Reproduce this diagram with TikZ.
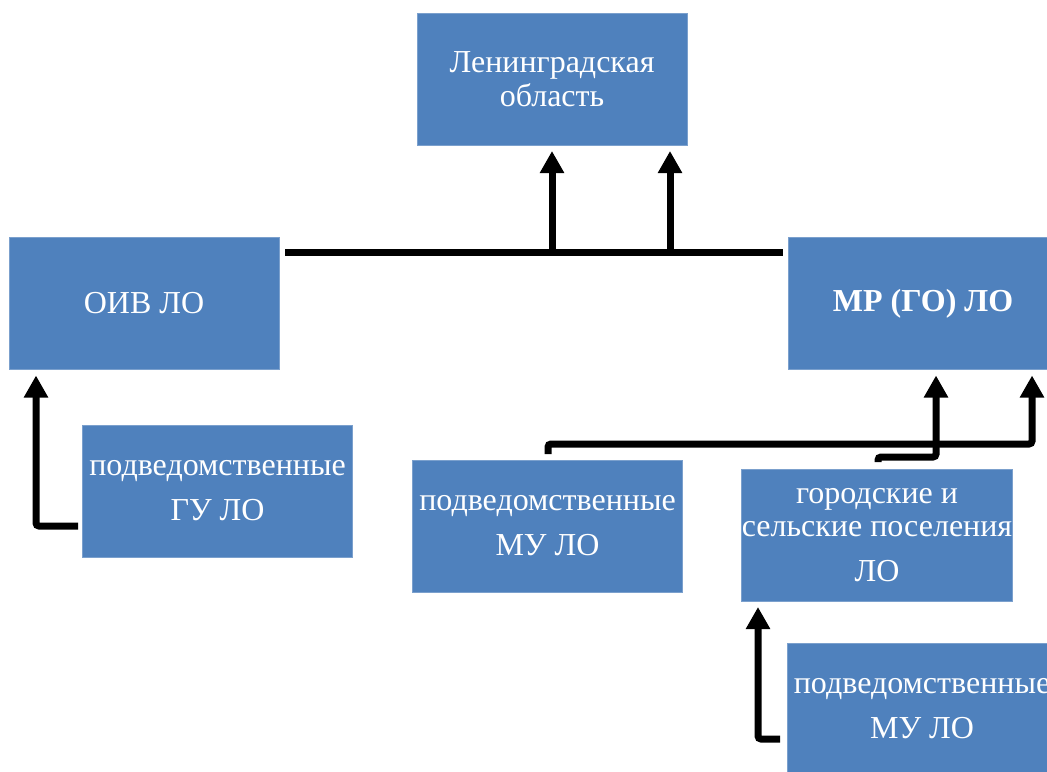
\documentclass[tikz,border=0pt]{standalone}
\usepackage{fontspec}
\setmainfont{Liberation Serif}
\usetikzlibrary{arrows.meta}
\definecolor{boxblue}{RGB}{79,129,189}
\tikzset{
  unit/.style={rectangle, fill=boxblue, draw=boxblue!75!white, line width=0.5pt, text=white, align=center,
    minimum width=135pt, minimum height=66pt, inner sep=0pt, font=\fontsize{16}{19}\selectfont},
  bus/.style={line width=3.5pt},
  link/.style={line width=3.5pt, rounded corners=1.5pt, -{Triangle[width=11.5pt,length=11pt]}},
}
\begin{document}
\begin{tikzpicture}[x=0.5pt,y=-0.5pt]
\useasboundingbox (0,0) rectangle (1047,771);

\def\gap{2.75pt}

\node[unit] (obl) at (552,79) {Ленинградская\\[-2pt]область};
\node[unit] (oiv) at (144,303.5) {ОИВ ЛО};
\node[unit] (mr) at (923,303.5) {\bfseries МР (ГО) ЛО};
\node[unit] (gu) at (217.5,491) {подведомственные\\[3.5pt]ГУ ЛО};
\node[unit] (mu) at (547.5,526) {подведомственные\\[3.5pt]МУ ЛО};
\node[unit] (pos) at (877,535) {городские и\\[-2.5pt]сельские поселения\\[3.5pt]ЛО};
\node[unit] (mub) at (922,709) {подведомственные\\[3.5pt]МУ ЛО};

% top bus
\coordinate (busL) at (285,252);
\coordinate (busR) at (783,252);
\coordinate (b1) at (552,252);
\coordinate (b2) at (670,252);
\draw[bus] (busL) -- (busR);
\draw[link] (b1) -- ([yshift=-\gap]obl.south -| b1);
\draw[link] (b2) -- ([yshift=-\gap]obl.south -| b2);

% left
\coordinate (guout) at (78,526);
\coordinate (guup) at (36,526);
\draw[link] (guout) -- (guup) -- ([yshift=-\gap]oiv.south -| guup);

% right
\coordinate (muout) at (548,454);
\coordinate (mutop) at (548,444);
\coordinate (mucol) at (1032,444);
\draw[link] (muout) -- (mutop) -- (mucol) -- ([yshift=-\gap]mr.south -| mucol);

\coordinate (posout) at (878,462);
\coordinate (postop) at (878,457);
\coordinate (poscol) at (936,457);
\draw[link] (posout) -- (postop) -- (poscol) -- ([yshift=-\gap]mr.south -| poscol);

% bottom
\coordinate (mubout) at (780,739);
\coordinate (mubup) at (758,739);
\draw[link] (mubout) -- (mubup) -- ([yshift=-\gap]pos.south -| mubup);

\end{tikzpicture}
\end{document}
